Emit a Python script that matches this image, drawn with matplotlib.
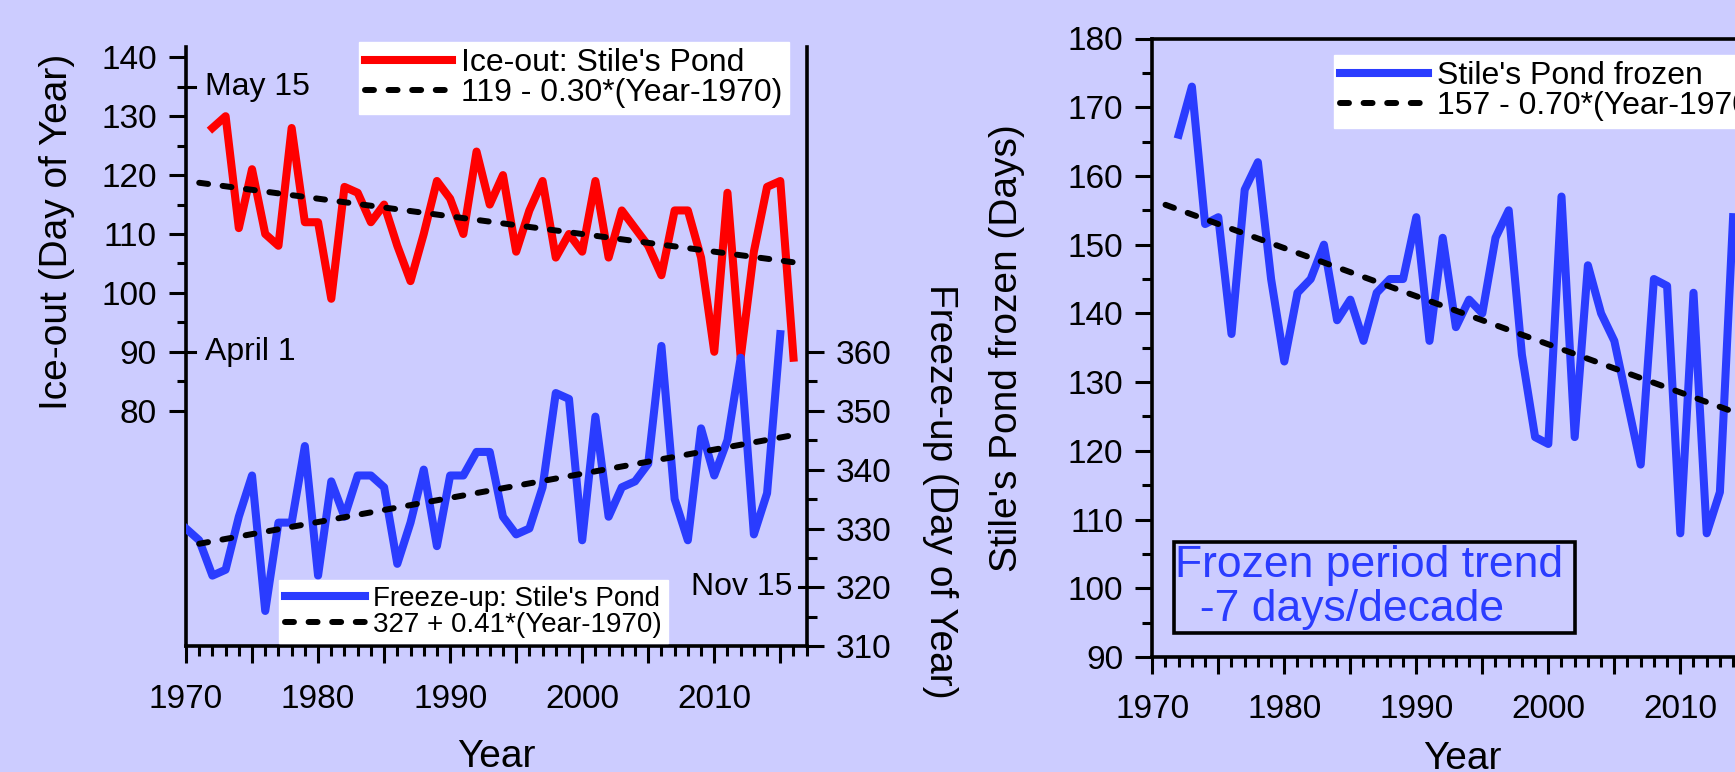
import numpy as np
import matplotlib
matplotlib.use("Agg")
import matplotlib.pyplot as plt
import matplotlib.transforms as mtransforms
from matplotlib.patches import Rectangle
from matplotlib.ticker import MultipleLocator, FixedLocator, FuncFormatter

plt.rcParams['font.family'] = ['Liberation Sans', 'DejaVu Sans']

# --- data ---
ice_years = np.arange(1972, 2017)
ice_out = [128, 130, 111, 121, 110, 108, 128, 112, 112, 99, 118, 117, 112, 115, 108,
           102, 110, 119, 116, 110, 124, 115, 120, 107, 114, 119, 106, 110, 107, 119,
           106, 114, 111, 108, 103, 114, 114, 106, 90, 117, 89, 107, 118, 119, 89]

fu_years = np.arange(1970, 2016)
freeze_up = [330, 328, 322, 323, 332, 339, 316, 331, 331, 344, 322, 338, 332, 339, 339,
             337, 324, 331, 340, 327, 339, 339, 343, 343, 332, 329, 330, 337, 353, 352,
             328, 349, 332, 337, 338, 341, 361, 335, 328, 347, 339, 345, 359, 329, 336, 363]

frozen_years = np.arange(1972, 2015)
frozen = [166, 173, 153, 154, 137, 158, 162, 145, 133, 143, 145, 150, 139, 142, 136,
          143, 145, 145, 154, 136, 151, 138, 142, 140, 151, 155, 134, 122, 121, 157,
          122, 147, 140, 136, 127, 118, 145, 144, 108, 143, 108, 114, 154]

trend_years = np.array([1971, 2016])
ice_fit = (119, -0.30)
fu_fit = (327, 0.41)
frozen_fit = (157, -0.70)

left_marks = [("May 15", 135), ("April 1", 90)]
right_marks = [("Nov 15", 320)]

bg = "#ccccff"
red = "#ff0000"
blue = "#2a3cff"
W, H = 1735, 772


def rect(x0, y0, x1, y1):
    return [x0 / W, 1 - y1 / H, (x1 - x0) / W, (y1 - y0) / H]


fig = plt.figure(figsize=(W / 100, H / 100), dpi=100, facecolor=bg)

lw_data = 5.8
lw_fit = 4.3
data_kw = dict(lw=lw_data, solid_joinstyle='round')
fit_kw = dict(color='k', lw=lw_fit, ls=(0, (1.5, 2.45)), dash_capstyle='round')
tick_fs = 24
lab_fs = 28
note_fs = 23
spine_w = 2.6
tick_w = 2.2


def style_x(ax):
    ax.set_xlim(1970, 2017)
    ax.xaxis.set_major_locator(MultipleLocator(5))
    ax.xaxis.set_minor_locator(MultipleLocator(1))
    ax.xaxis.set_major_formatter(FuncFormatter(lambda v, p: "%d" % v if int(round(v)) % 10 == 0 else ""))
    ax.tick_params(axis='x', which='major', direction='out', length=12, width=tick_w,
                   labelsize=tick_fs, pad=15)
    ax.tick_params(axis='x', which='minor', direction='out', length=7, width=tick_w)


# ---------------- left panel ----------------
ax1 = fig.add_axes(rect(186, 47, 806.7, 646.3))
ax1.set_facecolor(bg)
ax1.set_ylim(40, 141.75)
style_x(ax1)
ax1.yaxis.set_major_locator(FixedLocator(np.arange(80, 141, 10)))
ax1.yaxis.set_minor_locator(FixedLocator(np.arange(85, 136, 10)))
ax1.tick_params(axis='y', which='major', direction='out', length=12, width=tick_w,
                labelsize=tick_fs, pad=9)
ax1.tick_params(axis='y', which='minor', direction='out', length=6.5, width=tick_w)
for s in ['top', 'right']:
    ax1.spines[s].set_visible(False)
for s in ['left', 'bottom']:
    ax1.spines[s].set_linewidth(spine_w)

l_ice, = ax1.plot(ice_years, ice_out, color=red, label="Ice-out: Stile's Pond", **data_kw)
l_icefit, = ax1.plot(trend_years, ice_fit[0] + ice_fit[1] * (trend_years - 1970),
                     label="119 - 0.30*(Year-1970)", **fit_kw)

tr1 = mtransforms.blended_transform_factory(ax1.transAxes, ax1.transData)
for txt, day in left_marks:
    ax1.plot([0, 0.014], [day, day], color='k', lw=tick_w, transform=tr1, clip_on=False)
    ax1.text(0.03, day, txt, transform=tr1, ha='left', va='center', fontsize=note_fs)

ax1.set_xlabel("Year", fontsize=lab_fs)
ax1.xaxis.set_label_coords(0.5, -0.184)
ax1.xaxis.label.set_va('center')
fig.text(57 / W, 1 - 232 / H, "Ice-out (Day of Year)", rotation=90, ha='center', va='center',
         fontsize=lab_fs)

ax2 = ax1.twinx()
ax2.set_ylim(310, 411.75)
ax2.yaxis.set_major_locator(FixedLocator(np.arange(310, 361, 10)))
ax2.yaxis.set_minor_locator(FixedLocator(np.arange(315, 356, 10)))
ax2.tick_params(axis='y', which='major', direction='out', length=12, width=tick_w,
                labelsize=tick_fs, pad=9)
ax2.tick_params(axis='y', which='minor', direction='out', length=7, width=tick_w)
for s in ['top', 'left', 'bottom']:
    ax2.spines[s].set_visible(False)
ax2.spines['right'].set_linewidth(spine_w)

l_fu, = ax2.plot(fu_years, freeze_up, color=blue, label="Freeze-up: Stile's Pond", **data_kw)
l_fufit, = ax2.plot(trend_years, fu_fit[0] + fu_fit[1] * (trend_years - 1970),
                    label="327 + 0.41*(Year-1970)", **fit_kw)

tr2 = mtransforms.blended_transform_factory(ax2.transAxes, ax2.transData)
for txt, day in right_marks:
    ax2.plot([0.988, 1.0], [day, day], color='k', lw=tick_w, transform=tr2, clip_on=False)
    ax2.text(0.977, day, txt, transform=tr2, ha='right', va='center', fontsize=note_fs)

fig.text(940 / W, 1 - 491 / H, "Freeze-up (Day of Year)", rotation=270, ha='center',
         va='center', fontsize=lab_fs)

leg_kw = dict(frameon=True, fancybox=False, framealpha=1, facecolor='white', edgecolor='white',
              borderaxespad=0, borderpad=0.2, labelspacing=0.0, handletextpad=0.3,
              bbox_transform=fig.transFigure)
leg1 = ax2.legend(handles=[l_ice, l_icefit], loc='upper right', fontsize=23, handlelength=2.7,
                  bbox_to_anchor=(789 / W, 1 - 41.7 / H), **leg_kw)
ax2.add_artist(leg1)
ax2.legend(handles=[l_fu, l_fufit], loc='upper left', fontsize=20, handlelength=2.9,
           bbox_to_anchor=(279 / W, 1 - 580 / H), **leg_kw)

# ---------------- right panel ----------------
ax3 = fig.add_axes(rect(1152.3, 38.5, 1772.7, 657))
ax3.set_facecolor(bg)
ax3.set_ylim(90, 180)
style_x(ax3)
ax3.yaxis.set_major_locator(MultipleLocator(10))
ax3.yaxis.set_minor_locator(FixedLocator(np.arange(95, 176, 10)))
ax3.tick_params(axis='y', which='major', direction='out', length=12, width=tick_w,
                labelsize=tick_fs, pad=9)
ax3.tick_params(axis='y', which='minor', direction='out', length=7, width=tick_w)
for s in ax3.spines.values():
    s.set_linewidth(spine_w)

l_fr, = ax3.plot(frozen_years, frozen, color=blue, label="Stile's Pond frozen", **data_kw)
l_frfit, = ax3.plot(trend_years, frozen_fit[0] - 0.5 + frozen_fit[1] * (trend_years - 1970),
                    label="157 - 0.70*(Year-1970)", **fit_kw)

ax3.legend(handles=[l_fr, l_frfit], loc='upper left', fontsize=23, handlelength=2.75,
           bbox_to_anchor=(1333.5 / W, 1 - 55 / H), **leg_kw)

ax3.add_patch(Rectangle((0.035, 0.0383), 0.646, 0.1481, transform=ax3.transAxes,
                        facecolor='none', edgecolor='k', lw=spine_w, zorder=5))
ax3.text(0.037, 0.1487, "Frozen period trend", transform=ax3.transAxes, color=blue,
         fontsize=32, ha='left', va='center', zorder=6)
ax3.text(0.037, 0.076, "  -7 days/decade", transform=ax3.transAxes, color=blue,
         fontsize=32, ha='left', va='center', zorder=6)

ax3.set_xlabel("Year", fontsize=lab_fs)
ax3.xaxis.set_label_coords(0.5, -0.165)
ax3.xaxis.label.set_va('center')
ax3.set_ylabel("Stile's Pond frozen (Days)", fontsize=lab_fs)
ax3.yaxis.set_label_coords(-0.234, 0.5)
ax3.yaxis.label.set_va('center')

fig.savefig("out.png", dpi=100, facecolor=bg)
